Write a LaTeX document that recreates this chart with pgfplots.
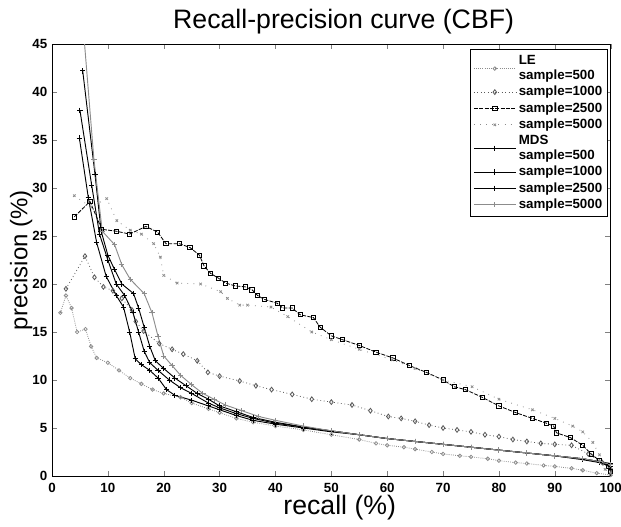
\documentclass[border=0pt]{standalone}
\usepackage{fontspec}
\setmainfont{Liberation Sans}
\usepackage{pgfplots}
\pgfplotsset{compat=1.18}
\definecolor{lgray}{gray}{0.55}
\definecolor{mgray}{gray}{0.35}

\begin{document}
\begin{tikzpicture}
\useasboundingbox (-39pt,-37.5pt) rectangle (426.75pt,357pt);
\begin{axis}[
  at={(0,0)}, anchor=south west,
  width=419pt, height=324pt, scale only axis,
  xmin=0, xmax=100, ymin=0, ymax=45,
  xtick={0,10,...,100}, ytick={0,5,...,45},
  tick align=inside, major tick length=4pt,
  tick label style={font=\bfseries\fontsize{10}{12}\selectfont},
  /pgf/number format/assume math mode=true,
  xticklabel style={yshift=-2pt},
  title={Recall-precision curve (CBF)},
  title style={at={(axis description cs:0.522,1)}, anchor=base, yshift=6pt,
    font=\fontsize{20}{23}\selectfont},
  xlabel={recall (\%)},
  xlabel style={at={(axis description cs:0.515,0)}, anchor=center, yshift=-24pt,
    font=\fontsize{20}{23}\selectfont},
  ylabel={precision (\%)},
  ylabel style={at={(axis description cs:-0.055,0.5)}, anchor=center,
    font=\fontsize{18}{21}\selectfont},
  clip=true,
  legend style={at={(0.995,0.988)}, anchor=north east, draw=black, line width=0.5pt,
    font=\bfseries\fontsize{10}{11.2}\selectfont, nodes={align=left},
    row sep=-0.5pt, inner xsep=2pt, inner ysep=2.5pt},
  legend cell align=left,
  legend image code/.code={\draw[mark repeat=2,mark phase=2,#1]
    plot coordinates {(0cm,0cm) (0.55cm,0cm) (1.1cm,0cm)};},
  every axis plot/.append style={mark options={solid}},
]
% LE sample=500
\addplot[color=lgray, densely dotted, line width=0.6pt, mark=o, mark size=1.3pt] coordinates {
(1.5,17.0) (2.5,18.8) (3.5,17.5) (4.5,15.0) (6,15.3) (7,13.5) (8,12.3) (10,11.8)
(12,11.0) (14,10.2) (16,9.6) (18,9.0) (20,8.6) (23,8.2) (25,7.6) (28,7.0) (30,6.6)
(33,6.0) (36,5.6) (40,5.2) (45,4.8) (50,4.3) (55,3.8) (58,3.4) (60,3.2) (63,3.0)
(65,2.8) (68,2.5) (70,2.3) (73,2.1) (75,2.0) (78,1.8) (80,1.6) (83,1.4) (85,1.3)
(88,1.1) (90,1.0) (93,0.8) (95,0.6) (97.5,0.3) (100,0.1)};
% LE sample=1000
\addplot[color=mgray, dotted, line width=0.6pt, mark=diamond, mark size=1.8pt] coordinates {
(2.5,19.5) (5.9,22.9) (7.6,20.7) (9.2,19.7) (10.9,19.3) (12.5,18.5) (14.3,17.3)
(15,16.1) (16.4,15.1) (19.2,13.8) (21.5,13.2) (23.5,12.7) (26,12.0) (27.9,10.8) (30,10.4)
(33.6,9.9) (36.5,9.4) (39.3,9.0) (43,8.5) (46.5,8.0) (50,7.7) (53.7,7.4) (57,6.8)
(60.2,6.2) (62.5,6.0) (65,5.7) (67.5,5.3) (70,5.0) (72.5,4.8) (75,4.6) (77.5,4.3)
(80,4.1) (82.5,3.8) (85,3.6) (87.5,3.4) (90,3.3) (93,3.2) (96,2.3) (98.5,1.4) (100,0.7)};
% LE sample=2500
\addplot[color=black, dash pattern=on 3pt off 1pt, line width=0.6pt, mark=square, mark size=1.6pt] coordinates {
(4,27.0) (6.8,28.6) (8.9,25.7) (11.5,25.5) (13.9,25.2) (16.8,26.0) (18.9,25.4)
(20.4,24.2) (22.8,24.2) (24.7,23.8) (26.4,23.0) (27.2,21.9) (28.4,21.1) (29.8,20.6)
(31.1,20.1) (32.8,19.8) (34.6,19.7) (35.8,19.4) (36.8,18.8) (38,18.4) (40.3,18.0)
(41.3,17.5) (43,17.5) (44.4,16.8) (46.8,16.5) (48,15.5) (50,14.6) (52,14.2) (55,13.6)
(58,12.9) (61,12.3) (64,11.5) (67,10.8) (70,10.0) (72,9.3) (74,9.0) (77,8.2) (80,7.3)
(83,6.6) (86,6.0) (88.5,5.5) (89.8,5.2) (90.3,4.5) (92.8,4.0) (95,3.2) (96.5,2.3)
(98,1.6) (99.6,1.0) (100,0.5)};
% LE sample=5000
\addplot[color=lgray, loosely dotted, line width=0.6pt, mark=x, mark size=1.3pt] coordinates {
(4,29.2) (7,28.0) (9.8,28.9) (11.6,26.6) (14,25.6) (16,25.2) (18.2,24.2) (19.4,22.8)
(20,20.9) (22.4,20.1) (26.6,20.0) (30.2,19.2) (31.4,18.5) (33.6,17.8) (35,17.8)
(39.2,17.6) (42.2,16.6) (46.5,15.0) (50,14.2) (55,13.2) (60.9,12.1) (65,11.2) (70,10.0)
(75.2,9.3) (80,8.0) (86,6.9) (90,6.0) (93.2,5.2) (95,4.6) (96.8,3.5) (98,2.2) (99,0.7)
(100,0.3)};
% MDS sample=500
\addplot[color=black, solid, line width=0.7pt, mark=+, mark size=2pt] coordinates {
(4.9,35.2) (6.5,29.0) (8,24.3) (9.7,20.8) (11.5,18.8) (12.8,17.6) (13.9,15.0) (14.9,12.2)
(16,11.6) (17.5,11.0) (19,10.2) (20.5,9.0) (22,8.4) (25,7.9) (28,7.3) (30,6.9) (33,6.3)
(36,5.8) (40,5.4) (45,5.0) (50,4.6) (55,4.3) (60,3.9) (65,3.6) (70,3.3) (75,3.0)
(80,2.7) (85,2.4) (90,2.1) (95,1.7) (98,1.4) (100,1.0)};
% MDS sample=1000
\addplot[color=black, solid, line width=0.7pt, mark=+, mark size=2pt] coordinates {
(5.0,38.1) (7.1,30.3) (8.5,25.2) (10,22.5) (11.5,20.0) (13,18.8) (14.5,17.0) (15.5,15.0)
(16.5,13.0) (17.5,11.8) (19,11.0) (21,10.0) (23,9.2) (25,8.6) (28,7.6) (30,7.1) (33,6.5)
(36,6.0) (40,5.5) (45,5.1) (50,4.7) (55,4.3) (60,3.9) (65,3.6) (70,3.3) (75,3.0)
(80,2.7) (85,2.4) (90,2.1) (95,1.8) (98,1.5) (100,1.2)};
% MDS sample=2500
\addplot[color=black, solid, line width=0.7pt, mark=+, mark size=2pt] coordinates {
(5.5,42.2) (7.7,31.4) (8.8,25.5) (10,23.0) (11.2,21.5) (12.5,20.0) (14.6,19.0) (15.5,17.5)
(16.5,15.5) (17.5,13.5) (18.5,12.0) (20,11.2) (22,10.2) (24,9.4) (26,8.6) (28,8.0)
(30,7.3) (33,6.7) (36,6.1) (40,5.6) (45,5.1) (50,4.7) (55,4.3) (60,3.9) (65,3.6)
(70,3.3) (75,3.0) (80,2.7) (85,2.4) (90,2.1) (95,1.8) (98,1.5) (100,1.3)};
% MDS sample=5000
\addplot[color=lgray, solid, line width=0.7pt, mark=+, mark size=2pt] coordinates {
(5.8,45.2) (7.5,33.0) (9,25.5) (11.2,24.1) (12.5,22.0) (14,20.5) (16.5,19.0) (17.9,17.0)
(19,14.5) (20,12.5) (21.5,11.5) (23,10.5) (25,9.5) (27,8.6) (29,8.0) (31,7.4) (34,6.8)
(37,6.2) (40,5.8) (45,5.2) (50,4.7) (55,4.3) (60,3.9) (65,3.6) (70,3.3) (75,3.0)
(80,2.7) (85,2.4) (90,2.1) (95,1.8) (98,1.5) (100,1.2)};
\legend{LE\\sample=500, sample=1000, sample=2500, sample=5000,
  MDS\\sample=500, sample=1000, sample=2500, sample=5000}
\end{axis}
\end{tikzpicture}
\end{document}
